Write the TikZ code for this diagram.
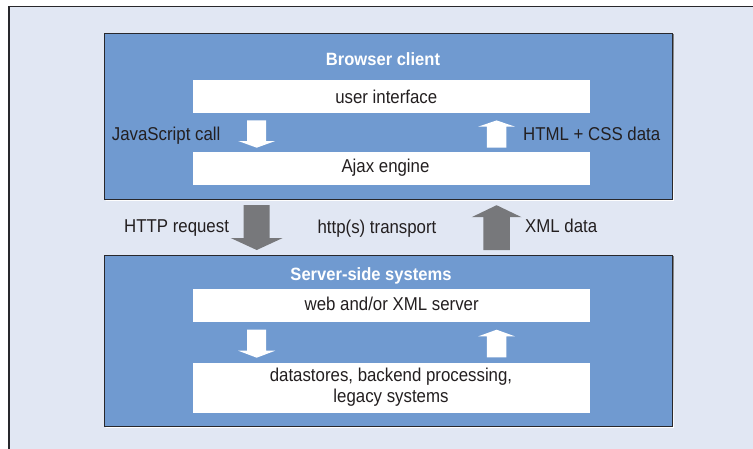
\documentclass[tikz,border=0pt]{standalone}
\usepackage{fontspec}
\setmainfont{Liberation Sans}[FakeStretch=0.905]
\newfontfamily\headfont{Liberation Sans}[FakeStretch=0.93]
\usetikzlibrary{calc}

\definecolor{pagebg}{RGB}{225,231,243}
\definecolor{panelblue}{RGB}{112,154,208}
\definecolor{ink}{RGB}{35,31,32}
\definecolor{pipe}{RGB}{119,120,123}
\definecolor{edge}{RGB}{40,40,44}
\definecolor{shade}{RGB}{165,168,176}

% vertical block arrow: style, tail point, tip point, shaft width, head width, head length
\newcommand\blockarrow[6]{%
  \fill[#1] let \p1=#2, \p2=#3, \n1={ifthenelse(\y1>\y2,1,-1)} in
    ({\x1-(#4)/2},\y1) -- ({\x1-(#4)/2},{\y2+\n1*(#6)})
    -- ({\x1-(#5)/2},{\y2+\n1*(#6)}) -- (\x1,\y2)
    -- ({\x1+(#5)/2},{\y2+\n1*(#6)}) -- ({\x1+(#4)/2},{\y2+\n1*(#6)})
    -- ({\x1+(#4)/2},\y1) -- cycle;}

\begin{document}
\begin{tikzpicture}[x=1pt,y=-1pt,
  panel/.style={draw=edge, line width=1.2pt, fill=panelblue, inner sep=0pt,
    anchor=north west, minimum width=568pt},
  layer/.style={fill=white, inner sep=0pt, anchor=north west, minimum width=397pt},
  lbl/.style={font=\fontsize{18.6}{21.7}\selectfont, text=ink, inner sep=0pt, anchor=base},
  head/.style={font=\headfont\bfseries\fontsize{17.8}{20}\selectfont, text=white,
    inner sep=0pt, anchor=base},
]
\useasboundingbox (0,0) rectangle (753,448);

% page background with its frame on the left and top
\fill[pagebg] (9,6.5) rectangle (760,455);
\draw[edge, line width=1.5pt] (9,455) -- (9,6.5) -- (760,6.5);

% soft shadows under the two panels
\fill[shade] (105.5,34) rectangle (673.8,200.8);
\fill[shade] (105.5,256.5) rectangle (673.8,427.5);

% panels
\node[panel, minimum height=166.5pt] (client) at (104,32.5) {};
\node[panel, minimum height=170.7pt] (server) at (104,255) {};

% layers inside the panels
\node[layer, minimum height=32.7pt] (ui)   at (193,80) {};
\node[layer, minimum height=33.3pt] (ajax) at (193,151.7) {};
\node[layer, minimum height=32.7pt] (web)  at (193,289) {};
\node[layer, minimum height=50pt]   (data) at (193,362.7) {};

% columns of the arrows
\coordinate (colL) at (256.7,0);
\coordinate (colR) at (496.6,0);

% arrows inside the browser client
\blockarrow{white}{($(colL|-ui.south)+(0,7.3)$)}{($(colL|-ajax.north)+(0,-4)$)}{19pt}{37pt}{6.7pt}
\blockarrow{white}{($(colR|-ajax.north)+(0,-4)$)}{($(colR|-ui.south)+(0,7.3)$)}{19.3pt}{37pt}{6.3pt}

% transport between client and server
\blockarrow{pipe}{($(colL|-client.south)+(0,5)$)}{($(colL|-server.north)+(0,-5)$)}{26pt}{52pt}{12pt}
\blockarrow{pipe}{($(colR|-server.north)+(0,-5)$)}{($(colR|-client.south)+(0,5)$)}{26.7pt}{50pt}{12pt}

% arrows inside the server side
\blockarrow{white}{($(colL|-web.south)+(0,7.6)$)}{($(colL|-data.north)+(0,-5)$)}{19pt}{37pt}{7pt}
\blockarrow{white}{($(colR|-data.north)+(0,-5.4)$)}{($(colR|-web.south)+(0,7.6)$)}{19.3pt}{37pt}{6.7pt}

% titles
\node[head] (tclient) at (383,65.7) {Browser client};
\node[head] (tserver) at (371,280.7) {Server-side systems};

% layer labels
\node[lbl] (tui)   at (386.3,103.3) {user interface};
\node[lbl] (tajax) at (385.5,172) {Ajax engine};
\node[lbl] (tweb)  at (391.7,310.8) {web and/or XML server};
\node[lbl] (tdata1) at (391,381) {datastores, backend processing,};
\node[lbl] (tdata2) at (391,402.7) {legacy systems};

% arrow labels
\node[lbl, anchor=base west] (tjs)    at (111.7,140) {JavaScript call};
\node[lbl, anchor=base west] (thtml)  at (523,140) {HTML + CSS data};
\node[lbl, anchor=base west] (thttp)  at (124,232.7) {HTTP request};
\node[lbl] (ttrans) at (377,233) {http(s) transport};
\node[lbl, anchor=base west] (txml)   at (525,232.7) {XML data};
\end{tikzpicture}
\end{document}
